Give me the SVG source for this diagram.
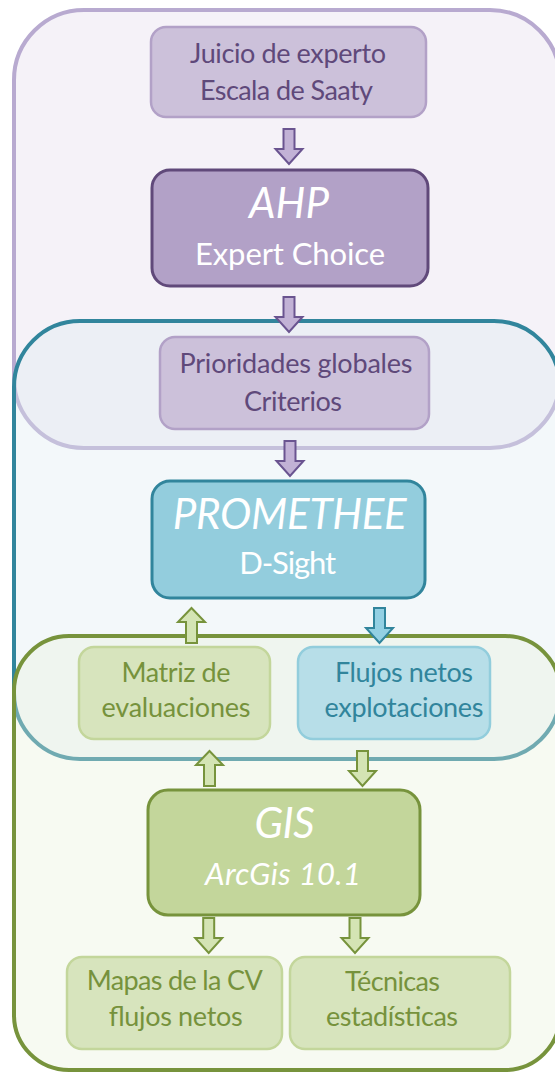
<svg xmlns="http://www.w3.org/2000/svg" width="555" height="1074" viewBox="0 0 555 1074">
<style>
text{font-family:Lato,"Open Sans","Liberation Sans",sans-serif;text-anchor:middle}
.lbl{font-size:27px}
.big{font-size:42px;font-style:italic;fill:#fff}
.sub{font-size:31px;fill:#fff}
.subi{font-size:31px;fill:#fff;font-style:italic}
.tp{fill:#5f497a}.tg{fill:#76923c}.tt{fill:#31859c}
.boxp{fill:#ccc1da;stroke:#b2a1c7;stroke-width:2.5}
.boxg{fill:#d7e4bd;stroke:#c3d69b;stroke-width:2.5}
.boxb{fill:#b7dee8;stroke:#92cddc;stroke-width:2.5}
.ap{fill:#c2b2d6;stroke:#6a5490;stroke-width:2}
.ag{fill:#d4e4b4;stroke:#77933c;stroke-width:2}
.ab{fill:#93d0e3;stroke:#31859c;stroke-width:2}
</style>
<defs>
<path id="down" d="M-5.5,0 H5.5 V20 H13.5 L0,35 L-13.5,20 H-5.5 Z"/>
<path id="up" d="M-5.5,35 H5.5 V14 H13.5 L0,0 L-13.5,14 H-5.5 Z"/>
</defs>
<rect width="555" height="1074" fill="#fff"/>
<g id="containers">
<rect x="14" y="10" width="546" height="438" rx="70" fill="#f5f2f8" stroke="#b8aad0" stroke-width="4"/>
<rect x="14" y="321" width="546" height="438" rx="66" fill="#dcebf1" fill-opacity="0.35"/>
<rect x="14" y="321" width="546" height="438" rx="66" fill="none" stroke="#31859c" stroke-width="4"/>
<rect x="14" y="636" width="546" height="434" rx="55" fill="#e8f0da" fill-opacity="0.35"/>
<rect x="14" y="636" width="546" height="434" rx="55" fill="none" stroke="#77933c" stroke-width="4"/>
</g>
<g id="juicio">
<rect class="boxp" x="151" y="27" width="275" height="90" rx="15"/>
<text class="lbl tp" x="288" y="63" textLength="196">Juicio de experto</text>
<text class="lbl tp" x="286.5" y="100" textLength="173">Escala de Saaty</text>
</g>
<g id="ahp">
<rect x="152" y="170" width="276" height="116" rx="18" fill="#b2a1c7" stroke="#60497a" stroke-width="3"/>
<text class="big" x="289" y="218" textLength="80">AHP</text>
<text class="sub" x="290" y="265" textLength="190">Expert Choice</text>
</g>
<g id="prioridades">
<rect class="boxp" x="160" y="337" width="269" height="92" rx="15"/>
<text class="lbl tp" x="296" y="373" textLength="233">Prioridades globales</text>
<text class="lbl tp" x="293" y="411" textLength="98">Criterios</text>
</g>
<g id="promethee">
<rect x="152" y="481" width="273" height="117" rx="18" fill="#93cddd" stroke="#31859c" stroke-width="3"/>
<text class="big" x="289.7" y="529" textLength="234">PROMETHEE</text>
<text class="sub" x="287.7" y="574" textLength="97">D-Sight</text>
</g>
<g id="matriz">
<rect class="boxg" x="79" y="647" width="191" height="92" rx="15"/>
<text class="lbl tg" x="176" y="682" textLength="109">Matriz de</text>
<text class="lbl tg" x="176" y="717" textLength="149">evaluaciones</text>
</g>
<g id="flujos">
<rect class="boxb" x="298" y="647" width="192" height="92" rx="15"/>
<text class="lbl tt" x="404" y="682" textLength="138">Flujos netos</text>
<text class="lbl tt" x="404" y="717" textLength="159">explotaciones</text>
</g>
<g id="gis">
<rect x="148" y="790" width="272" height="125" rx="20" fill="#c3d69b" stroke="#77933c" stroke-width="3"/>
<text class="big" x="284.5" y="838" textLength="60">GIS</text>
<text class="subi" x="283" y="885" textLength="156">ArcGis 10.1</text>
</g>
<g id="mapas">
<rect class="boxg" x="67" y="957" width="215" height="92" rx="15"/>
<text class="lbl tg" x="174.7" y="990" textLength="176">Mapas de la CV</text>
<text class="lbl tg" x="175.5" y="1026" textLength="134">flujos netos</text>
</g>
<g id="tecnicas">
<rect class="boxg" x="290" y="957" width="220" height="92" rx="15"/>
<text class="lbl tg" x="392.5" y="990.5" textLength="95">Técnicas</text>
<text class="lbl tg" x="392" y="1026" textLength="132">estadísticas</text>
</g>
<g id="connectors">
<use href="#down" class="ap" transform="translate(289,129)"/>
<use href="#down" class="ap" transform="translate(289,297)"/>
<use href="#down" class="ap" transform="translate(290,441)"/>
<use href="#up" class="ag" transform="translate(191.5,608)"/>
<use href="#down" class="ab" transform="translate(379.5,608)"/>
<use href="#up" class="ag" transform="translate(209.5,751)"/>
<use href="#down" class="ag" transform="translate(362.5,751)"/>
<use href="#down" class="ag" transform="translate(208.7,918)"/>
<use href="#down" class="ag" transform="translate(355,918)"/>
</g>
</svg>
